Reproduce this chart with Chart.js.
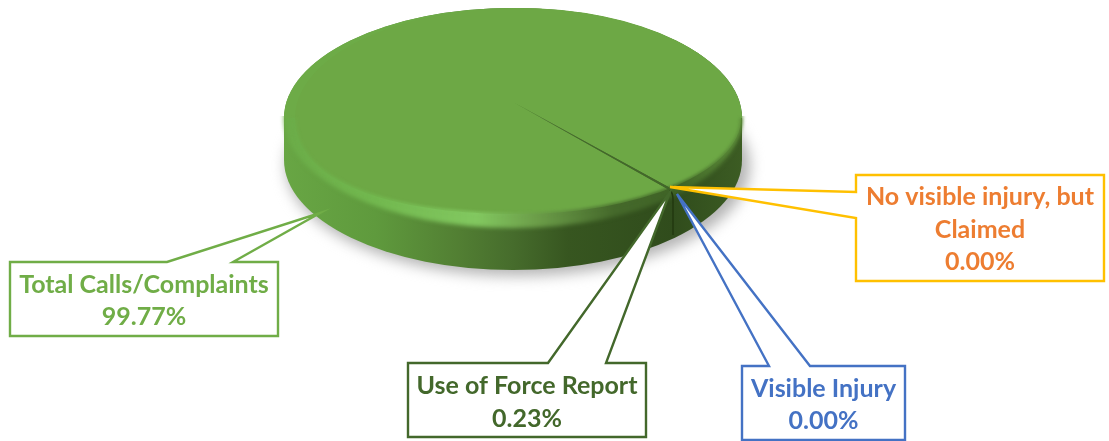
<!DOCTYPE html>
<html>
<head>
<meta charset="utf-8">
<style>html,body{margin:0;padding:0;background:#fff}canvas{display:block}</style>
<script src="https://cdn.jsdelivr.net/npm/chart.js@4"></script>
</head>
<body>
<canvas id="c" width="1109" height="441"></canvas>
<script>
const categories = ['Total Calls/Complaints', 'Use of Force Report', 'Visible Injury', 'No visible injury, but Claimed'];
const shares = [99.77, 0.23, 0, 0];
const sliceColors = ['#6da845', '#43682b', '#4472c4', '#ffc000'];
const firstSliceAngle = 140;

const labelLines = [['Total Calls/Complaints'], ['Use of Force Report'], ['Visible Injury'], ['No visible injury, but', 'Claimed']];
const callouts = [
  {box:[10,262,278,336], base:[[233,262],[167,262]], tip:[320,213], stroke:'#70ad47', text:'#70ad47', base1:293, lh:32},
  {box:[408,363,646,437], base:[[606,363],[548,363]], tip:[670,192], stroke:'#43682b', text:'#43682b', base1:394, lh:33},
  {box:[742,366,905,440], base:[[769,366],[810,366]], tip:[677,194], stroke:'#4472c4', text:'#4472c4', base1:397, lh:32},
  {box:[856,175,1104,281], base:[[856,218],[856,192]], tip:[670,187], stroke:'#ffc000', text:'#ed7d31', base1:205, lh:32.5}
];

function faceLower(ctx){
  ctx.ellipse(518,118,223,96,0,0,Math.PI/2);
  ctx.bezierCurveTo(420,215,295,192,295,118);
}
function facePath(ctx){
  ctx.beginPath();
  ctx.ellipse(518,118,223,110,0,Math.PI,2*Math.PI);
  faceLower(ctx);
  ctx.closePath();
}
function rimGradient(ctx){
  const g = ctx.createLinearGradient(284,0,742,0);
  g.addColorStop(0,'#6bac48');
  g.addColorStop(0.2,'#72b84f');
  g.addColorStop(0.42,'#82c860');
  g.addColorStop(0.55,'#6c9e49');
  g.addColorStop(0.72,'#45692b');
  g.addColorStop(0.86,'#3f6326');
  g.addColorStop(1,'#5d8e3a');
  return g;
}
const pie3d = {
  id:'pie3d',
  beforeDatasetsDraw(chart){
    const ctx = chart.ctx;
    ctx.save();
    ctx.filter='blur(7px)';
    ctx.fillStyle='#b4b4b4';
    ctx.beginPath();
    ctx.ellipse(518,166,232,110,0,0,2*Math.PI);
    ctx.fill();
    ctx.restore();

    ctx.save();
    const w = ctx.createLinearGradient(284,0,742,0);
    w.addColorStop(0,'#68a644');
    w.addColorStop(0.2,'#5f9a3d');
    w.addColorStop(0.38,'#527f33');
    w.addColorStop(0.5,'#466c2c');
    w.addColorStop(0.62,'#375620');
    w.addColorStop(0.85,'#304c1c');
    w.addColorStop(1,'#3c5c23');
    ctx.fillStyle=w;
    ctx.beginPath();
    ctx.ellipse(513,118,229,110,0,Math.PI,2*Math.PI);
    ctx.ellipse(513,160,229,110,0,0,Math.PI);
    ctx.closePath();
    ctx.fill();
    ctx.restore();

    ctx.save();
    ctx.beginPath();
    ctx.rect(0,116,1109,325);
    ctx.clip();
    ctx.fillStyle=rimGradient(ctx);
    ctx.beginPath();
    ctx.ellipse(513,118,229,110,0,0,2*Math.PI);
    ctx.closePath();
    ctx.filter='blur(2px)';
    ctx.fill();
    ctx.restore();

    ctx.save();
    ctx.fillStyle='#6dab47';
    ctx.beginPath();
    ctx.ellipse(513,118,229,110,0,Math.PI,2*Math.PI);
    ctx.closePath();
    ctx.fill();
    ctx.restore();

    const el = chart.getDatasetMeta(0).data[0];
    ctx.save();
    facePath(ctx);
    ctx.clip();
    ctx.translate(513,102);
    ctx.scale(300/el.outerRadius, 141.6/el.outerRadius);
    ctx.translate(-el.x,-el.y);
  },
  afterDatasetsDraw(chart){
    const ctx = chart.ctx;
    ctx.restore();

    ctx.save();
    ctx.filter='blur(1.5px)';
    ctx.strokeStyle=rimGradient(ctx);
    ctx.lineWidth=2.5;
    ctx.beginPath();
    faceLower(ctx);
    ctx.stroke();
    ctx.restore();

    ctx.save();
    ctx.strokeStyle='#22380f';
    ctx.lineWidth=1.5;
    ctx.filter='blur(0.4px)';
    ctx.beginPath();
    ctx.moveTo(670,190);
    ctx.quadraticCurveTo(673,193,673,200);
    ctx.lineTo(673,235);
    ctx.stroke();
    ctx.restore();

    categories.forEach((name,i)=>{
      const c = callouts[i], [l,t,r,b] = c.box;
      const order = {0:[[l,t],c.base[1],c.tip,c.base[0],[r,t],[r,b],[l,b]],
                     1:[[l,t],c.base[1],c.tip,c.base[0],[r,t],[r,b],[l,b]],
                     2:[[l,t],c.base[0],c.tip,c.base[1],[r,t],[r,b],[l,b]],
                     3:[[l,t],[r,t],[r,b],[l,b],c.base[0],c.tip,c.base[1]]}[i];
      ctx.save();
      ctx.beginPath();
      order.forEach((p,k)=>k?ctx.lineTo(p[0],p[1]):ctx.moveTo(p[0],p[1]));
      ctx.closePath();
      ctx.fillStyle='#ffffff';
      ctx.fill();
      ctx.strokeStyle=c.stroke;
      ctx.lineWidth=2.4;
      ctx.lineJoin='miter';
      ctx.stroke();
      ctx.fillStyle=c.text;
      ctx.font='700 25px Lato';
      ctx.textAlign='center';
      ctx.textBaseline='alphabetic';
      const lines = labelLines[i].concat([shares[i].toFixed(2)+'%']);
      lines.forEach((s,k)=>ctx.fillText(s,(l+r)/2,c.base1+k*c.lh));
      ctx.restore();
    });
  }
};
new Chart(document.getElementById('c'),{
  type:'pie',
  data:{labels:categories,datasets:[{data:shares,backgroundColor:sliceColors,borderWidth:0,clip:false}]},
  options:{
    responsive:false,
    animation:false,
    rotation:firstSliceAngle,
    layout:{padding:0},
    plugins:{legend:{display:false},tooltip:{enabled:false}}
  },
  plugins:[pie3d]
});
</script>
</body>
</html>
